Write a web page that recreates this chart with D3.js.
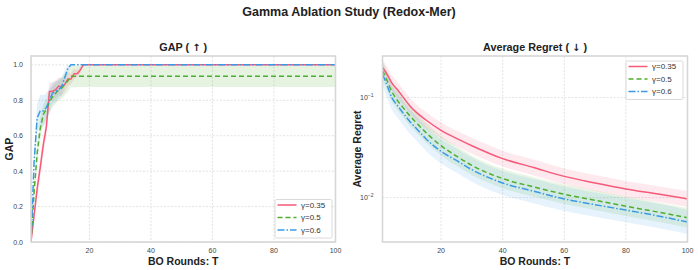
<!DOCTYPE html>
<html>
<head>
<meta charset="utf-8">
<script src="https://cdn.jsdelivr.net/npm/d3@7"></script>
<style>
  body { margin: 0; background: #fff; }
  svg { font-family: "Liberation Sans", Arial, sans-serif; }
</style>
</head>
<body>
<div id="chart"></div>
<script>
// ---- data ----
const seriesNames = ["γ=0.35", "γ=0.5", "γ=0.6"];
const seriesColors = ["#f7597a", "#4fae2e", "#3a9ae6"];
const seriesDash = ["", "5,3", "7,2,1.5,2"];

// GAP panel
const gapRounds = [1,2,3,4,5,6,7,8,9,10,11,12,13,14,15,16,17,18,19,20,100];
const gapRed   = [0,0.15,0.30,0.42,0.55,0.65,0.85,0.85,0.86,0.88,0.875,0.89,0.92,0.92,0.95,0.95,0.97,1.0,1.0,1.0,1.0];
const gapGreen = [0,0.28,0.50,0.64,0.72,0.75,0.79,0.82,0.84,0.86,0.87,0.89,0.91,0.935,0.935,0.935,0.935,0.935,0.935,0.935,0.935];
const gapBlue  = [0,0.45,0.70,0.74,0.74,0.76,0.80,0.84,0.85,0.86,0.88,0.93,0.98,1.0,1.0,1.0,1.0,1.0,1.0,1.0,1.0];
const gapRedStd   = [0,0.03,0.05,0.05,0.05,0.05,0.05,0.05,0.05,0.05,0.05,0.04,0.04,0.03,0.03,0.02,0.02,0,0,0,0];
const gapGreenStd = [0,0.04,0.06,0.06,0.06,0.06,0.06,0.06,0.06,0.06,0.06,0.06,0.06,0.06,0.06,0.06,0.06,0.06,0.06,0.06,0.06];
const gapBlueStd  = [0,0.05,0.08,0.09,0.09,0.08,0.07,0.06,0.06,0.05,0.05,0.04,0.02,0,0,0,0,0,0,0,0];

// Average regret panel
const regretRounds = [1,2,3,4,5,6,8,10,12,15,20,25,30,40,50,60,70,80,90,100];
const regretRed   = [0.20,0.18,0.16,0.14,0.128,0.118,0.098,0.082,0.071,0.060,0.047,0.039,0.033,0.0245,0.020,0.0163,0.014,0.0122,0.0109,0.0097];
const regretGreen = [0.185,0.16,0.135,0.115,0.102,0.092,0.077,0.065,0.056,0.045,0.033,0.026,0.021,0.0155,0.0128,0.0108,0.0094,0.0082,0.0072,0.0063];
const regretBlue  = [0.17,0.145,0.12,0.10,0.09,0.082,0.068,0.057,0.049,0.039,0.029,0.0235,0.019,0.014,0.0116,0.0097,0.0085,0.0075,0.0066,0.0057];
const regretSpread = [1.2, 1.25, 1.32];   // multiplicative band half-width

const xTicks = [20, 40, 60, 80, 100];
const gapTicks = [0, 0.2, 0.4, 0.6, 0.8, 1.0];
const regretTicks = [0.1, 0.01];

// ---- layout ----
const width = 698, height = 270;
const svg = d3.select("#chart").append("svg")
    .attr("width", width).attr("height", height);

svg.append("text")
    .attr("x", 349).attr("y", 16)
    .attr("text-anchor", "middle")
    .attr("font-size", 12.5).attr("font-weight", "bold").attr("fill", "#222")
    .text("Gamma Ablation Study (Redox-Mer)");

const plotTop = 56, plotBottom = 242;

function panel(left, right, title, arrow, ylabel, ylabelX) {
    const g = svg.append("g");
    const x = d3.scaleLinear().domain([1, 100]).range([left, right]);
    const tt = g.append("text")
        .attr("x", (left + right) / 2).attr("y", 50.5)
        .attr("text-anchor", "middle")
        .attr("font-size", 10.8).attr("font-weight", "bold").attr("fill", "#222");
    tt.append("tspan").text(title + " ( ");
    tt.append("tspan").attr("font-family", "DejaVu Sans").attr("font-size", 10).text(arrow);
    tt.append("tspan").text(" )");
    g.append("text")
        .attr("x", (left + right) / 2).attr("y", 264.5)
        .attr("text-anchor", "middle")
        .attr("font-size", 10.5).attr("font-weight", "bold").attr("fill", "#222")
        .text("BO Rounds: T");
    g.append("text")
        .attr("transform", "translate(" + ylabelX + "," + ((plotTop + plotBottom) / 2) + ") rotate(-90)")
        .attr("text-anchor", "middle")
        .attr("font-size", 10.5).attr("font-weight", "bold").attr("fill", "#222")
        .text(ylabel);
    // x grid + ticks
    xTicks.forEach(t => {
        if (t < 100) {
            g.append("line")
                .attr("x1", x(t)).attr("x2", x(t)).attr("y1", plotTop).attr("y2", plotBottom)
                .attr("stroke", "#dcdcdc").attr("stroke-width", 0.8).attr("stroke-dasharray", "2,1.5");
        }
        g.append("text")
            .attr("x", x(t)).attr("y", plotBottom + 10.5)
            .attr("text-anchor", "middle")
            .attr("font-size", 7).attr("fill", "#444")
            .text(t);
    });
    return { g, x };
}

function frame(g, left, right) {
    g.append("rect")
        .attr("x", left).attr("y", plotTop)
        .attr("width", right - left).attr("height", plotBottom - plotTop)
        .attr("fill", "none").attr("stroke", "#d6d6d6").attr("stroke-width", 1.6);
}

function legend(g, x0, y0, rowYs) {
    g.append("rect")
        .attr("x", x0).attr("y", y0)
        .attr("width", 57).attr("height", 38.5)
        .attr("fill", "#fff").attr("fill-opacity", 0.9)
        .attr("stroke", "#d0d0d0").attr("stroke-width", 0.8).attr("rx", 1.5);
    seriesNames.forEach((name, i) => {
        const yy = y0 + rowYs[i];
        g.append("line")
            .attr("x1", x0 + 2.5).attr("x2", x0 + 21.5).attr("y1", yy).attr("y2", yy)
            .attr("stroke", seriesColors[i]).attr("stroke-width", 1.5)
            .attr("stroke-dasharray", seriesDash[i] || null);
        g.append("text")
            .attr("x", x0 + 26).attr("y", yy + 2.8)
            .attr("font-size", 8).attr("fill", "#333")
            .text(name);
    });
}

// ---- GAP panel ----
{
    const left = 31, right = 335.5;
    const { g, x } = panel(left, right, "GAP", "\u2191", "GAP", 13);
    const y = d3.scaleLinear().domain([0, 1.05]).range([plotBottom, plotTop]);
    gapTicks.forEach(t => {
        g.append("line")
            .attr("x1", left).attr("x2", right).attr("y1", y(t)).attr("y2", y(t))
            .attr("stroke", "#dcdcdc").attr("stroke-width", 0.8).attr("stroke-dasharray", "2,1.5");
        g.append("text")
            .attr("x", left - 8).attr("y", y(t) + 2.5)
            .attr("text-anchor", "end")
            .attr("font-size", 7).attr("fill", "#444")
            .text(t.toFixed(1));
    });
    const vals = [gapRed, gapGreen, gapBlue];
    const stds = [gapRedStd, gapGreenStd, gapBlueStd];
    g.append("clipPath").attr("id", "clipGap").append("rect")
        .attr("x", left).attr("y", plotTop).attr("width", right - left).attr("height", plotBottom - plotTop);
    const plot = g.append("g").attr("clip-path", "url(#clipGap)");
    vals.forEach((v, i) => {
        const pts = gapRounds.map((r, k) => ({ r, m: v[k], s: stds[i][k] }));
        plot.append("path").datum(pts)
            .attr("fill", seriesColors[i]).attr("fill-opacity", 0.15)
            .attr("d", d3.area().x(d => x(d.r)).y0(d => y(d.m - d.s)).y1(d => y(Math.min(d.m + d.s, 1.0))));
    });
    vals.forEach((v, i) => {
        const pts = gapRounds.map((r, k) => ({ r, m: v[k] }));
        plot.append("path").datum(pts)
            .attr("fill", "none")
            .attr("stroke", seriesColors[i]).attr("stroke-width", 1.5)
            .attr("stroke-dasharray", seriesDash[i] || null)
            .attr("d", d3.line().x(d => x(d.r)).y(d => y(d.m)));
    });
    frame(g, left, right);
    legend(g, 275, 199.5, [5.5, 18, 30.5]);
}

// ---- Average regret panel ----
{
    const left = 382.5, right = 687.5;
    const { g, x } = panel(left, right, "Average Regret", "\u2193", "Average Regret", 361);
    const y = d3.scaleLog().domain([0.0036, 0.26]).range([plotBottom, plotTop]);
    regretTicks.forEach(t => {
        g.append("line")
            .attr("x1", left).attr("x2", right).attr("y1", y(t)).attr("y2", y(t))
            .attr("stroke", "#dcdcdc").attr("stroke-width", 0.8).attr("stroke-dasharray", "2,1.5");
        const txt = g.append("text")
            .attr("x", left - 9).attr("y", y(t) + 2.5)
            .attr("text-anchor", "end")
            .attr("font-size", 7).attr("fill", "#444");
        txt.append("tspan").text("10");
        txt.append("tspan").attr("font-size", 5).attr("dy", -3).text("\u2212" + Math.round(-Math.log10(t)));
    });
    const vals = [regretRed, regretGreen, regretBlue];
    g.append("clipPath").attr("id", "clipReg").append("rect")
        .attr("x", left).attr("y", plotTop).attr("width", right - left).attr("height", plotBottom - plotTop);
    const plot = g.append("g").attr("clip-path", "url(#clipReg)");
    vals.forEach((v, i) => {
        const pts = regretRounds.map((r, k) => ({ r, m: v[k] }));
        const f = regretSpread[i];
        plot.append("path").datum(pts)
            .attr("fill", seriesColors[i]).attr("fill-opacity", 0.13)
            .attr("d", d3.area().curve(d3.curveMonotoneX)
                .x(d => x(d.r)).y0(d => y(d.m / f)).y1(d => y(d.m * f)));
    });
    vals.forEach((v, i) => {
        const pts = regretRounds.map((r, k) => ({ r, m: v[k] }));
        plot.append("path").datum(pts)
            .attr("fill", "none")
            .attr("stroke", seriesColors[i]).attr("stroke-width", 1.5)
            .attr("stroke-dasharray", seriesDash[i] || null)
            .attr("d", d3.line().curve(d3.curveMonotoneX).x(d => x(d.r)).y(d => y(d.m)));
    });
    frame(g, left, right);
    legend(g, 626, 61, [5.5, 18, 30.5]);
}
</script>
</body>
</html>
